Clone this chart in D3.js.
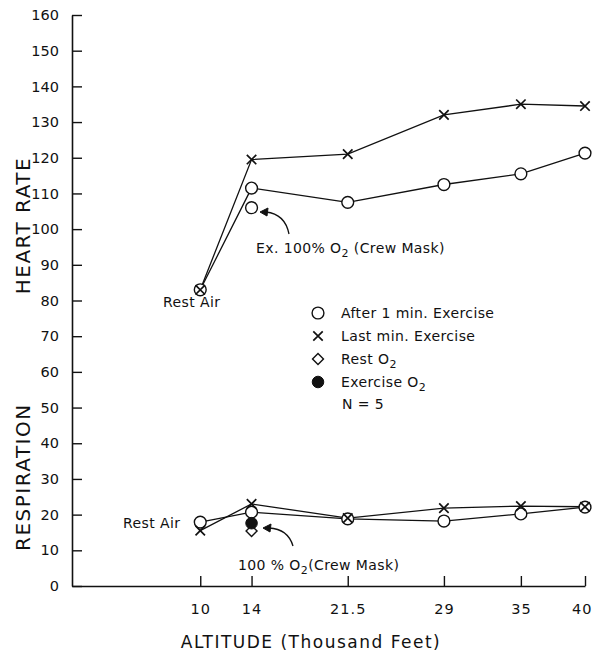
<!DOCTYPE html>
<head>
    <meta charset="utf-8">
    <style>
        body{ margin:0; background:#fff; }
        svg{ display:block; }
        text{ font-family: 'DejaVu Sans', sans-serif; fill:#111; }
        .axis .domain{ stroke:#111; stroke-width:1.6px; }
        .axis line{ stroke:#111; stroke-width:1.4px; }
        .axis text{ font-size:14.5px; fill:#111; }
        .line{ fill:none; stroke:#111; stroke-width:1.3px; }
        .open{ fill:#fff; stroke:#111; stroke-width:1.4px; }
        .cross{ fill:none; stroke:#111; stroke-width:1.7px; }
        .filled{ fill:#111; stroke:#111; }
        .title{ font-size:20px; letter-spacing:1.5px; }
        .note{ font-size:14px; letter-spacing:0.4px; }
        .sub{ font-size:11px; }
    </style>
</head>
<body>
    <div id="chart"></div>
    <script src="https://d3js.org/d3.v7.min.js"></script>
    <script>
        // altitude in thousand feet
        var altitudes = [10, 14, 21.5, 29, 35, 40];

        // heart rate
        var hrAfter = [83, 111.5, 107.5, 112.5, 115.5, 121.3];
        var hrLast  = [83, 119.5, 121, 132, 135, 134.5];
        var hrExO2  = [{alt: 14, v: 106}];

        // respiration
        var respAfter  = [17.9, 20.7, 18.8, 18.2, 20.2, 22.1];
        var respLast   = [15.5, 23, 19, 21.8, 22.4, 22.2];
        var respRestO2 = [{alt: 14, v: 15.4}];
        var respExO2   = [{alt: 14, v: 17.6}];

        var yTicks = d3.range(0, 161, 10);
        var legendLabels = ["After  1 min. Exercise", "Last  min. Exercise", "Rest  O", "Exercise  O"];

        var width = 592, height = 656;

        var svg = d3.select("#chart").append("svg")
            .attr("width", width)
            .attr("height", height);

        var x = d3.scaleLinear().domain([0, 40]).range([72, 585]);
        var y = d3.scaleLinear().domain([0, 160]).range([586, 15]);

        // axes
        svg.append("g")
            .attr("class", "axis")
            .attr("transform", "translate(" + x(0) + ",0)")
            .call(d3.axisLeft(y).tickValues(yTicks).tickSizeInner(-10).tickSizeOuter(0).tickPadding(13));

        var xAxis = svg.append("g")
            .attr("class", "axis")
            .attr("transform", "translate(0," + y(0) + ")")
            .call(d3.axisBottom(x).tickValues(altitudes).tickFormat(d3.format("")).tickSizeInner(-10).tickSizeOuter(0).tickPadding(18));

        xAxis.selectAll("text").attr("letter-spacing", "1px");
        // last label sits at the page edge: keep it inside
        xAxis.selectAll(".tick text").filter(function(d) { return d === 40; })
            .attr("text-anchor", "end").attr("x", 7);

        // axis titles
        svg.append("text").attr("class", "title")
            .attr("transform", "translate(30," + y(101) + ") rotate(-90)")
            .attr("text-anchor", "middle")
            .text("HEART RATE");
        svg.append("text").attr("class", "title")
            .attr("transform", "translate(30," + y(30.5) + ") rotate(-90)")
            .attr("text-anchor", "middle")
            .text("RESPIRATION");
        svg.append("text").attr("class", "title")
            .attr("x", 311).attr("y", 648)
            .attr("text-anchor", "middle")
            .style("font-size", "17px")
            .text("ALTITUDE (Thousand Feet)");

        function pts(vals) {
            return vals.map(function(v, i) { return {alt: altitudes[i], v: v}; });
        }

        var line = d3.line()
            .x(function(d) { return x(d.alt); })
            .y(function(d) { return y(d.v); });

        var circle = d3.symbol().type(d3.symbolCircle).size(110);
        var cross = d3.symbol().type(d3.symbolX).size(60);
        var diamond = d3.symbol().type(d3.symbolSquare).size(60);
        var dot = d3.symbol().type(d3.symbolCircle).size(105);

        [hrLast, hrAfter, respLast, respAfter].forEach(function(s) {
            svg.append("path").datum(pts(s)).attr("class", "line").attr("d", line);
        });

        function drawMarks(data, sym, cls, rot) {
            svg.append("g").selectAll("path")
                .data(data)
                .enter().append("path")
                .attr("class", cls)
                .attr("d", sym)
                .attr("transform", function(d) {
                    return "translate(" + x(d.alt) + "," + y(d.v) + ")" + (rot ? " rotate(45)" : "");
                });
        }

        drawMarks(pts(hrAfter), circle, "open");
        drawMarks(hrExO2, circle, "open");
        drawMarks(pts(respAfter), circle, "open");
        drawMarks(respRestO2, diamond, "open", true);
        drawMarks(respExO2, dot, "filled");
        drawMarks(pts(hrLast), cross, "cross");
        drawMarks(pts(respLast), cross, "cross");

        // annotations
        function noteO2(tx, ty, pre, post) {
            var t = svg.append("text").attr("class", "note").attr("x", tx).attr("y", ty);
            t.append("tspan").text(pre);
            t.append("tspan").attr("class", "sub").attr("dy", 4).text("2");
            t.append("tspan").attr("dy", -4).text(post);
        }

        svg.append("text").attr("class", "note").attr("x", 163).attr("y", 307).text("Rest  Air");
        svg.append("text").attr("class", "note").attr("x", 123).attr("y", 528).text("Rest  Air");
        noteO2(256, 253, "Ex. 100% O", "   (Crew Mask)");
        noteO2(238, 570, "100 % O", "(Crew Mask)");

        function arrow(x0, y0, cx, cy, x1, y1) {
            svg.append("path").attr("class", "line").attr("stroke-width", 1.4)
                .attr("d", "M" + x0 + "," + y0 + "Q" + cx + "," + cy + " " + (x1 + 6) + "," + y1);
            svg.append("path").attr("class", "filled")
                .attr("d", "M" + x1 + "," + y1 + "l8,-4l-1,8z");
        }
        arrow(289, 234, 285, 214, 260, 212);
        arrow(293, 546, 288, 529, 263, 528);

        // legend
        var lx = 318, lx2 = 341, ly = [313, 336, 359, 382];
        var legSyms = [[circle, "open", false], [cross, "cross", false], [diamond, "open", true], [dot, "filled", false]];
        legSyms.forEach(function(s, i) {
            svg.append("path").attr("class", s[1]).attr("d", s[0])
                .attr("transform", "translate(" + lx + "," + ly[i] + ")" + (s[2] ? " rotate(45)" : ""));
            var t = svg.append("text").attr("class", "note").attr("x", lx2).attr("y", ly[i] + 5).text(legendLabels[i]);
            if (i >= 2) t.append("tspan").attr("class", "sub").attr("dy", 4).text("2");
        });
        svg.append("text").attr("class", "note").attr("x", 342).attr("y", 409).text("N = 5");
    </script>
</body>
